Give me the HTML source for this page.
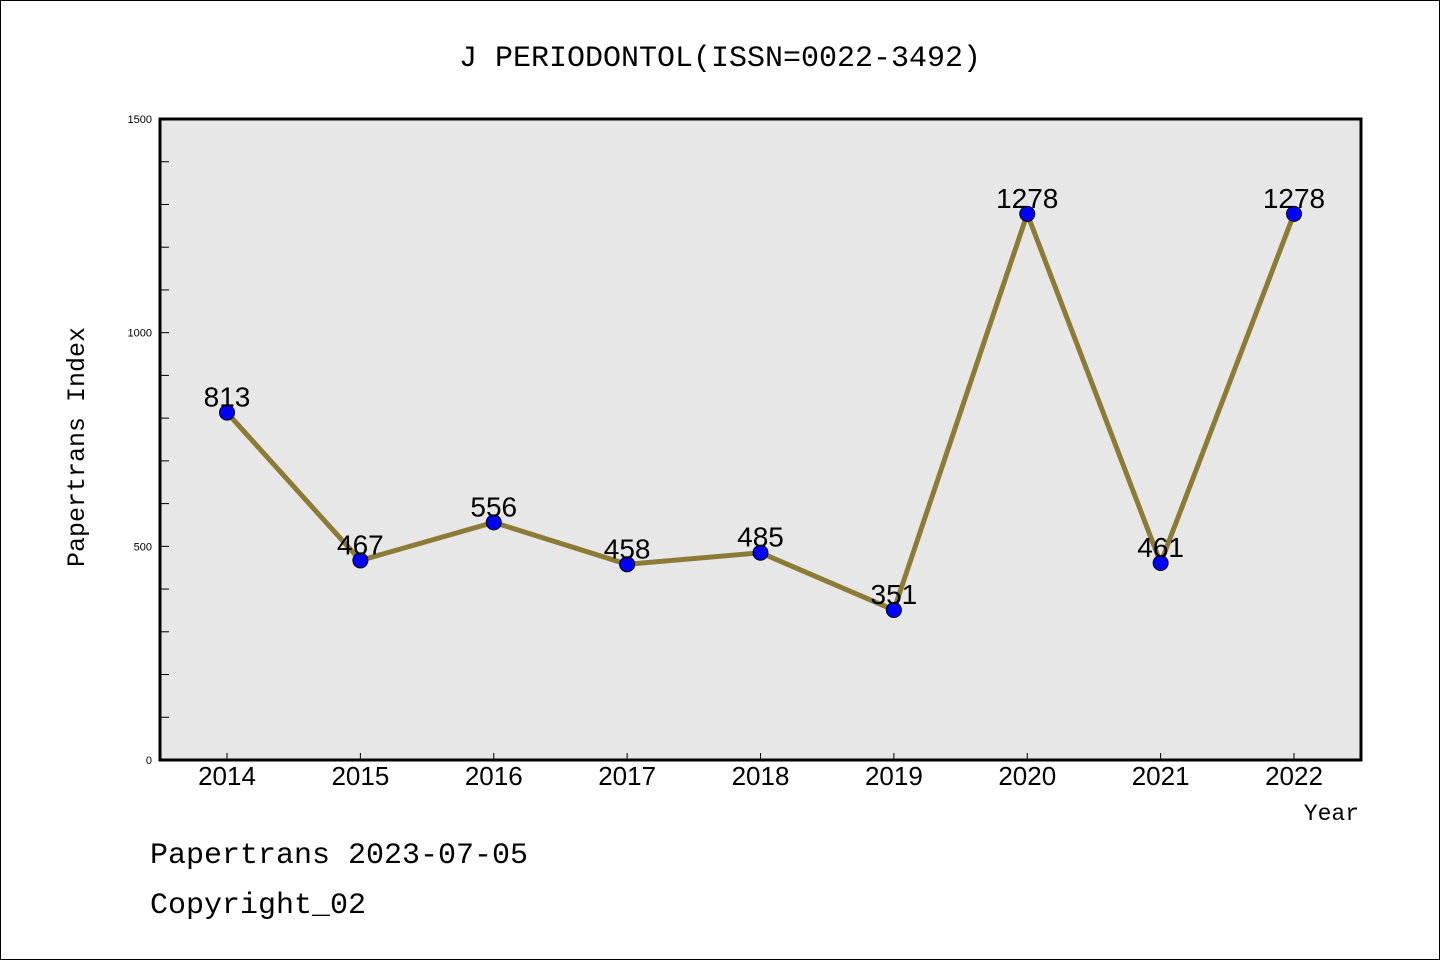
<!DOCTYPE html>
<html><head><meta charset="utf-8"><style>
html,body{margin:0;padding:0;background:#fff}
svg{display:block}
text{font-family:"Liberation Sans",sans-serif}
.mono{font-family:"Liberation Mono",monospace}
</style></head><body>
<svg id="chart" width="1440" height="960">
<rect x="0.5" y="0.5" width="1439" height="959" fill="#fff" stroke="#000"/>
<text class="mono" x="720" y="66" font-size="30" text-anchor="middle">J PERIODONTOL(ISSN=0022-3492)</text>
<rect x="160" y="119" width="1201" height="641" fill="#e7e7e7"/>
<g id="yticks"></g><g id="xticks"></g>
<polyline id="line" fill="none" stroke="#8b7b35" stroke-width="5"/>
<g id="pts"></g>
<rect x="160" y="119" width="1201" height="641" fill="none" stroke="#000" stroke-width="3"/>
<text class="mono" transform="translate(84,447) rotate(-90)" font-size="25" text-anchor="middle">Papertrans Index</text>
<text class="mono" x="1359" y="820" font-size="23" text-anchor="end">Year</text>
<text class="mono" x="150" y="863" font-size="30">Papertrans 2023-07-05</text>
<text class="mono" x="150" y="913" font-size="30">Copyright_02</text>
</svg>
<script>
const years=["2014","2015","2016","2017","2018","2019","2020","2021","2022"];
const values=[813,467,556,458,485,351,1278,461,1278];
const yTickLabels=[0,500,1000,1500];
const NS="http://www.w3.org/2000/svg";
const x0=227,x1=1294,yb=760,yt=119,ymax=1500;
const xs=i=>x0+(x1-x0)*i/(years.length-1);
const ys=v=>yb-(yb-yt)*v/ymax;
function mk(t,a,p){const e=document.createElementNS(NS,t);for(const k in a)e.setAttribute(k,a[k]);p.appendChild(e);return e;}
const yt_=document.getElementById('yticks');
for(let v=100;v<ymax;v+=100){const l=mk('line',{x1:160,x2:169,y1:ys(v),y2:ys(v),stroke:'#000','stroke-width':1},yt_);

}
yTickLabels.forEach(v=>{const t=mk('text',{x:152,y:ys(v)+4,'font-size':11,'text-anchor':'end'},yt_);t.textContent=v;

});
const xt=document.getElementById('xticks');
years.forEach((y,i)=>{const l=mk('line',{x1:xs(i),x2:xs(i),y1:760,y2:753,stroke:'#000','stroke-width':1},xt);


const t=mk('text',{x:xs(i),y:785,'font-size':26,'text-anchor':'middle'},xt);t.textContent=y;

});
document.getElementById('line').setAttribute('points',values.map((v,i)=>xs(i)+','+ys(v)).join(' '));
const pts=document.getElementById('pts');
values.forEach((v,i)=>{const c=mk('circle',{cx:xs(i),cy:ys(v),r:7.5,fill:'#0000ff',stroke:'#000','stroke-width':1},pts);


const t=mk('text',{x:xs(i),y:ys(v)-6,'font-size':28,'text-anchor':'middle'},pts);t.textContent=v;

});
</script>
</body></html>
